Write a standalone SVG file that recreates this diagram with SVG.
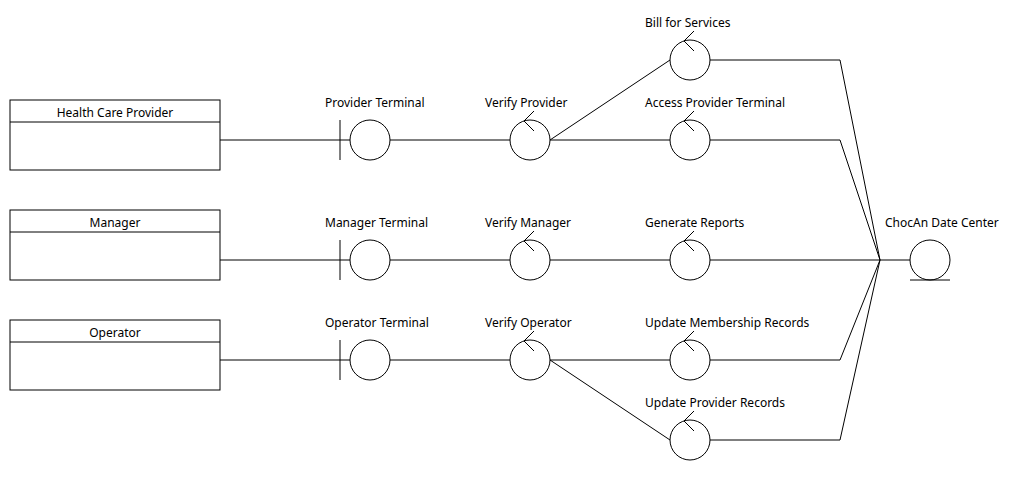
<svg xmlns="http://www.w3.org/2000/svg" width="1030" height="490" viewBox="0 0 1030 490">
<style>
.sh{fill:#fff;stroke:#000;stroke-width:1}
.ln{fill:none;stroke:#000;stroke-width:1}
.t{font-family:"Noto Sans","Open Sans",sans-serif;font-size:12px;fill:#000}
.c{text-anchor:middle}
</style>
<defs>
<g id="ctl"><circle class="sh" cx="0" cy="0" r="20"/><path class="ln" d="M4,-29 L-6,-19 L4,-9"/></g>
<g id="bnd"><circle class="sh" cx="0" cy="0" r="20"/><path class="ln" d="M-30,-20 V20 M-30,0 H-20"/></g>
</defs>
<rect width="1030" height="490" fill="#fff"/>
<g id="connectors">
<path class="ln" d="M220,140 H340 M390,140 H510 M550,140 L670,60 M550,140 H670 M710,60 H840 L880,260 M710,140 H840 L880,260"/>
<path class="ln" d="M220,260 H340 M390,260 H510 M550,260 H670 M710,260 H910"/>
<path class="ln" d="M220,360 H340 M390,360 H510 M550,360 H670 M550,360 L670,440 M710,360 H840 L880,260 M710,440 H840 L880,260"/>
</g>
<g id="hcp"><rect class="sh" x="10" y="100" width="210" height="70"/><path class="ln" d="M10,122 H220"/><text class="t c" x="115" y="117">Health Care Provider</text></g>
<g id="manager"><rect class="sh" x="10" y="210" width="210" height="70"/><path class="ln" d="M10,232 H220"/><text class="t c" x="115" y="227">Manager</text></g>
<g id="operator"><rect class="sh" x="10" y="320" width="210" height="70"/><path class="ln" d="M10,342 H220"/><text class="t c" x="115" y="337">Operator</text></g>
<g id="provider-terminal"><use href="#bnd" x="370" y="140"/><text class="t" x="325" y="107">Provider Terminal</text></g>
<g id="manager-terminal"><use href="#bnd" x="370" y="260"/><text class="t" x="325" y="227">Manager Terminal</text></g>
<g id="operator-terminal"><use href="#bnd" x="370" y="360"/><text class="t" x="325" y="327">Operator Terminal</text></g>
<g id="verify-provider"><use href="#ctl" x="530" y="140"/><text class="t" x="485" y="107">Verify Provider</text></g>
<g id="verify-manager"><use href="#ctl" x="530" y="260"/><text class="t" x="485" y="227">Verify Manager</text></g>
<g id="verify-operator"><use href="#ctl" x="530" y="360"/><text class="t" x="485" y="327">Verify Operator</text></g>
<g id="bill"><use href="#ctl" x="690" y="60"/><text class="t" x="645" y="27">Bill for Services</text></g>
<g id="access"><use href="#ctl" x="690" y="140"/><text class="t" x="645" y="107">Access Provider Terminal</text></g>
<g id="reports"><use href="#ctl" x="690" y="260"/><text class="t" x="645" y="227">Generate Reports</text></g>
<g id="membership"><use href="#ctl" x="690" y="360"/><text class="t" x="645" y="327">Update Membership Records</text></g>
<g id="provider-records"><use href="#ctl" x="690" y="440"/><text class="t" x="645" y="407">Update Provider Records</text></g>
<g id="datacenter"><circle class="sh" cx="930" cy="260" r="20"/><path class="ln" d="M910,280 H950"/><text class="t" x="885" y="227">ChocAn Date Center</text></g>
</svg>
